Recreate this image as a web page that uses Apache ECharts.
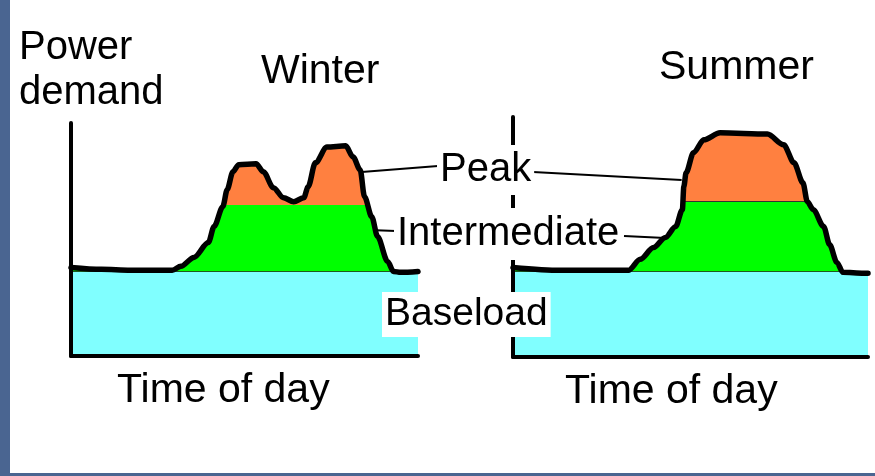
<!DOCTYPE html>
<html>
<head>
<meta charset="utf-8">
<script src="https://cdn.jsdelivr.net/npm/echarts@6/dist/echarts.min.js"></script>
<style>
  html, body { margin: 0; padding: 0; background: #fff; }
  #chart { width: 875px; height: 476px; background: #fff; box-shadow: inset 10px -3px 0 #4a6591; }
</style>
</head>
<body>
<div id="chart"></div>
<script>
const winterHours = [0, 2.1, 4.1, 7.0, 7.6, 8.5, 9.5, 9.9, 10.5, 10.8, 11.2, 11.6, 12.8, 13.3, 14.0, 14.7, 15.4, 16.1, 16.4, 16.9, 17.7, 19.0, 19.5, 20.0, 20.3, 20.8, 21.2, 21.9, 22.3, 22.8, 24]
const winterDemand = [38, 37.2, 36.8, 36.8, 38.5, 42.3, 48.7, 55.6, 64.1, 71.4, 79.1, 82.1, 82.5, 79.1, 72.2, 67.9, 66.2, 67.9, 72.6, 82.9, 89.7, 90.2, 85.5, 79.9, 68.4, 59.8, 51.3, 40.6, 36.3, 35.9, 36.3]
const summerHours = [0, 3.2, 7.8, 8.6, 9.5, 10.3, 11.0, 11.45, 11.55, 11.7, 12.2, 12.9, 14.0, 17.2, 18.3, 19.0, 19.6, 19.9, 20.3, 21.0, 21.4, 21.9, 22.3, 23.7, 24]
const summerDemand = [37.3, 36.1, 36.1, 40.7, 45.6, 49.8, 54.4, 61.4, 71.0, 76.8, 85.1, 90.5, 93.4, 92.9, 88.4, 80.9, 72.6, 64.7, 61.4, 54.4, 46.9, 39.4, 35.3, 34.9, 34.9]

// levels splitting baseload / intermediate / peak
const winterBase = 36.5
const summerBase = 36
const intermediateTop = 65

const font = '"Liberation Sans", Arial, sans-serif'
const cyan = '#80ffff'
const green = '#00ff00'
const orange = '#ff8040'

const zip = (xs, ys) => xs.map((x, i) => [x, ys[i]])
const winterData = zip(winterHours, winterDemand)
const summerData = zip(summerHours, summerDemand)

function bands(base, top) {
  return [
    { lt: base - 0.4, color: cyan },
    { gte: base - 0.4, lt: base, color: '#1d5a1d' },
    { gte: base, lt: top - 0.4, color: green },
    { gte: top - 0.4, lt: top, color: '#333' },
    { gte: top, color: orange }
  ]
}

function text(str, left, top, size, lineHeight, boxed) {
  const t = {
    text: str,
    left: left,
    top: top,
    padding: boxed ? [0, 3] : 0,
    textStyle: { fontFamily: font, fontSize: size, fontWeight: 'normal', color: '#000', lineHeight: lineHeight }
  }
  if (boxed) t.backgroundColor = '#fff'
  return t
}

// axes drawn above the filled areas
const axisLine = { show: true, onZero: false, lineStyle: { color: '#000', width: 4 } }
function xAx(i) {
  return { gridIndex: i, z: 4, type: 'value', min: 0, max: 24, axisLine: axisLine, axisTick: { show: false }, axisLabel: { show: false }, splitLine: { show: false } }
}
function yAx(i) {
  return { gridIndex: i, z: 4, type: 'value', min: 0, max: 100, axisLine: axisLine, axisTick: { show: false }, axisLabel: { show: false }, splitLine: { show: false } }
}

const leader = { color: '#000', width: 2, type: 'solid' }
const outline = { color: '#000', width: 5.5, cap: 'round', join: 'round' }

const chart = echarts.init(document.getElementById('chart'))
chart.setOption({
  animation: false,
  title: [
    text('Power\ndemand', 19, 25, 40, 45),
    text('Winter', 261, 49, 41, 45),
    text('Summer', 659, 45, 41, 45),
    text('Time of day', 117, 368, 41, 45),
    text('Time of day', 565, 369, 41, 45),
    text('Peak', 437, 145, 40, 50, true),
    text('Intermediate', 394, 208, 40, 52, true),
    text('Baseload', 382, 292, 39, 45, true)
  ],
  grid: [
    { left: 71, top: 123, right: 457, bottom: 120 },
    { left: 513, top: 117, right: 7, bottom: 119 }
  ],
  xAxis: [xAx(0), xAx(1)],
  yAxis: [yAx(0), yAx(1)],
  visualMap: [
    { type: 'piecewise', show: false, seriesIndex: 0, dimension: 1, pieces: bands(winterBase, intermediateTop) },
    { type: 'piecewise', show: false, seriesIndex: 2, dimension: 1, pieces: bands(summerBase, intermediateTop) }
  ],
  series: [
    {
      name: 'Winter', type: 'line', xAxisIndex: 0, yAxisIndex: 0, data: winterData,
      smooth: 0.3, smoothMonotone: 'x', showSymbol: false, silent: true,
      lineStyle: { width: 0 }, areaStyle: { opacity: 1 }, z: 2
    },
    {
      name: 'Winter outline', type: 'line', xAxisIndex: 0, yAxisIndex: 0, data: winterData,
      smooth: 0.3, smoothMonotone: 'x', showSymbol: false, silent: true,
      lineStyle: outline, z: 3,
      markLine: {
        silent: true, symbol: ['none', 'none'], label: { show: false }, lineStyle: leader,
        data: [
          [{ coord: [20.1, 79] }, { x: 438, y: 166 }],
          [{ coord: [21.1, 54] }, { x: 396, y: 231 }]
        ]
      }
    },
    {
      name: 'Summer', type: 'line', xAxisIndex: 1, yAxisIndex: 1, data: summerData,
      smooth: 0.3, smoothMonotone: 'x', showSymbol: false, silent: true,
      lineStyle: { width: 0 }, areaStyle: { opacity: 1 }, z: 2
    },
    {
      name: 'Summer outline', type: 'line', xAxisIndex: 1, yAxisIndex: 1, data: summerData,
      smooth: 0.3, smoothMonotone: 'x', showSymbol: false, silent: true,
      lineStyle: outline, z: 3,
      markLine: {
        silent: true, symbol: ['none', 'none'], label: { show: false }, lineStyle: leader,
        data: [
          [{ x: 533, y: 172 }, { coord: [11.4, 73.8] }],
          [{ x: 624, y: 236 }, { coord: [10.3, 49.6] }]
        ]
      }
    }
  ]
})
</script>
</body>
</html>
